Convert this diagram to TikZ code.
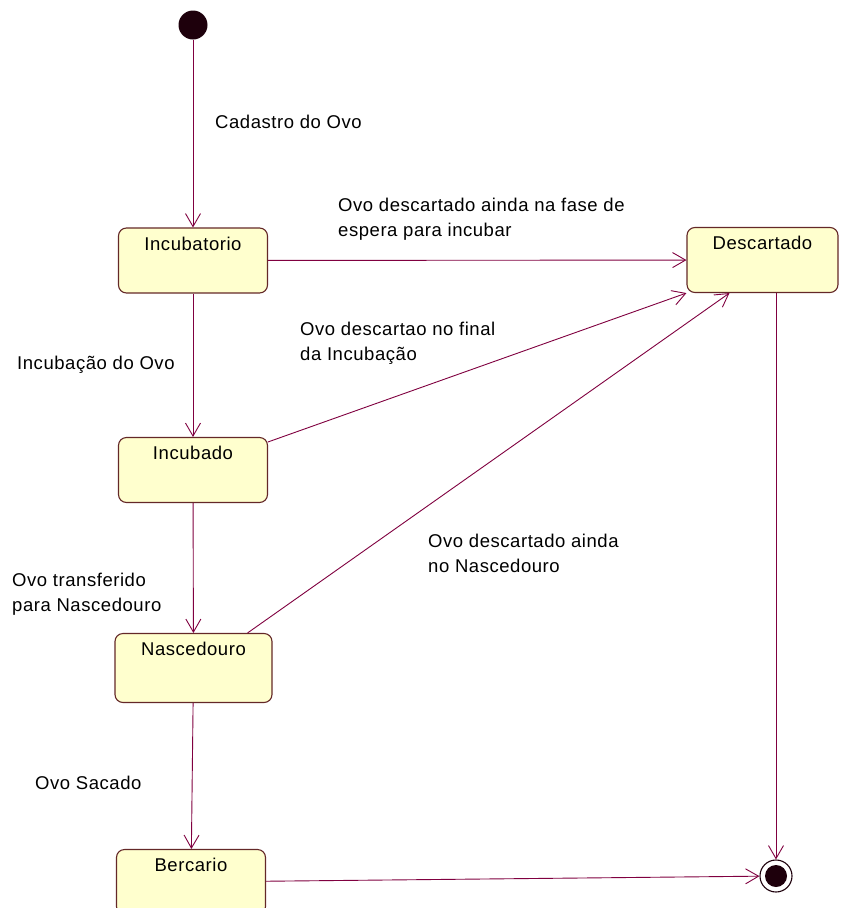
\documentclass[tikz,border=0pt]{standalone}
\usepackage{fontspec}
\setmainfont[LetterSpace=3]{Liberation Sans}
\usepackage{tikz}
\usetikzlibrary{arrows.meta,positioning}
\usepackage{xcolor}
\definecolor{edgered}{RGB}{128,0,64}
\definecolor{statefill}{RGB}{255,255,206}
\definecolor{stateline}{RGB}{100,40,40}
\definecolor{dotblack}{RGB}{30,0,12}

\begin{document}
\begin{tikzpicture}[x=1pt,y=-1pt,every node/.style={font=\fontsize{18.5}{25}\selectfont},
    state/.style={draw=stateline,line width=1.1pt,fill=statefill,rounded corners=8pt,
      minimum width=149pt,inner sep=0pt,text height=22pt,text depth=43pt},
    trans/.style={edgered,line width=0.9pt,-{Straight Barb[length=13pt,width=15pt]}},
    lbl/.style={anchor=west,align=left,inner sep=0pt}]
  \useasboundingbox (0,0) rectangle (854,908);
  \clip (0,0) rectangle (854,908);
  \fill[white] (0,0) rectangle (854,908);
  \node[circle,fill=dotblack,minimum size=29pt,inner sep=0pt] (start) at (193,25) {};
  \node[state] (incb) at (193,260.5) {Incubatorio};
  \node[state,minimum width=151pt] (desc) at (762.5,260) {Descartado};
  \node[state] (incd) at (193,470) {Incubado};
  \node[state,minimum width=157pt,text depth=47pt] (nasc) at (193.5,668) {Nascedouro};
  \node[state] (berc) at (191,882) {Bercario};
  \node[circle,draw=dotblack,line width=1.1pt,fill=white,minimum size=32pt,inner sep=0pt] (final) at (776,876) {};
  \fill[dotblack] (final) circle (11pt);
  \draw[trans] (start) -- (incb);
  \draw[trans] (incb) -- (incd);
  \draw[trans] (incd) -- (nasc);
  \draw[trans] (nasc) -- (berc);
  \draw[trans] (incb) -- (desc);
  \draw[trans] ([yshift=-5pt]incd.north east) -- (desc.south west);
  \draw[trans] ([xshift=-25pt]nasc.north east) -- ([xshift=43pt]desc.south west);
  \draw[trans] (desc.south -| final) -- (final);
  \draw[trans] (berc) -- (final);
  \node[lbl] (lcad) at (215,122) {Cadastro do Ovo};
  \node[lbl] (lesp) at (338,219.5) {Ovo descartado ainda na fase de\\espera para incubar};
  \node[lbl] (lfin) at (300,343) {Ovo descartao no final\\da Incuba\c{c}\~ao};
  \node[lbl] (linc) at (17,365) {Incuba\c{c}\~ao do Ovo};
  \node[lbl] (lnas) at (428,553) {Ovo descartado ainda\\no Nascedouro};
  \node[lbl] (ltra) at (12,594) {Ovo transferido\\para Nascedouro};
  \node[lbl] (lsac) at (35,783) {Ovo Sacado};
\end{tikzpicture}
\end{document}
